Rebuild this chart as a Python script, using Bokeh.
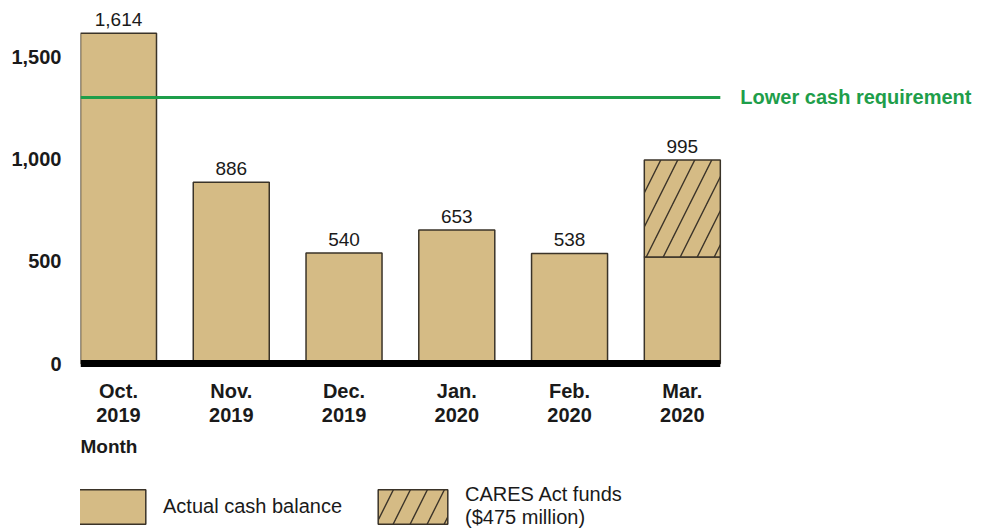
from bokeh.plotting import figure
from bokeh.layouts import column
from bokeh.models import (ColumnDataSource, FixedTicker, NumeralTickFormatter, Legend,
                          LegendItem, Title, Range1d)
from bokeh.core.properties import value
from bokeh.embed import file_html
from bokeh.resources import INLINE

# ---- data ----
months = ["Oct.\n2019", "Nov.\n2019", "Dec.\n2019", "Jan.\n2020", "Feb.\n2020", "Mar.\n2020"]
cash_balance = [1614, 886, 540, 653, 538, 520]
cares_funds = [0, 0, 0, 0, 0, 475]
total_labels = ["1,614", "886", "540", "653", "538", "995"]
lower_cash_requirement = 1300
y_ticks = [0, 500, 1000, 1500]

xs = list(range(len(months)))
totals = [c + f for c, f in zip(cash_balance, cares_funds)]

TAN = "#D5BB85"
EDGE = "#3a3328"
GREEN = "#1E9E4A"
TXT = "#1a1a1a"
FONT = "Liberation Sans"
BAR_W = 0.674
HATCH = dict(hatch_pattern="/", hatch_color=EDGE, hatch_weight=1.4, hatch_scale=34)

x_lo = xs[0] - BAR_W / 2
x_hi = xs[-1] + BAR_W / 2

p = figure(width=980, height=478,
           x_range=Range1d(x_lo, 7.60), y_range=Range1d(-34, 1725),
           output_backend="svg", toolbar_location=None,
           min_border_left=80, min_border_right=5, min_border_top=10, min_border_bottom=108)
p.outline_line_color = None
p.xgrid.visible = False
p.ygrid.visible = False

cash_src = ColumnDataSource(dict(x=xs, top=cash_balance))
p.vbar(x="x", top="top", bottom=0, width=BAR_W, source=cash_src,
       fill_color=TAN, line_color=EDGE, line_width=1.5)

cx = [x for x, f in zip(xs, cares_funds) if f > 0]
cb = [c for c, f in zip(cash_balance, cares_funds) if f > 0]
ct = [t for t, f in zip(totals, cares_funds) if f > 0]
cares_src = ColumnDataSource(dict(x=cx, bottom=cb, top=ct))
p.vbar(x="x", top="top", bottom="bottom", width=BAR_W, source=cares_src,
       fill_color=TAN, line_color=EDGE, line_width=1.5, **HATCH)

# baseline
p.segment(x0=[x_lo], y0=[0], x1=[x_hi], y1=[0], line_color="black", line_width=7)

# requirement line
p.segment(x0=[x_lo], y0=[lower_cash_requirement], x1=[x_hi], y1=[lower_cash_requirement],
          line_color=GREEN, line_width=3)
p.text(x=[x_hi], y=[lower_cash_requirement], text=["Lower cash requirement"], x_offset=20,
       text_align="left", text_baseline="middle", text_color=GREEN,
       text_font=value(FONT), text_font_size="20px", text_font_style="bold")

# value labels
p.text(x=xs, y=totals, text=total_labels, y_offset=-7, text_align="center",
       text_baseline="bottom", text_color=TXT, text_font=value(FONT), text_font_size="19px")

# axes
xa = p.xaxis[0]
xa.ticker = FixedTicker(ticks=xs)
xa.major_label_overrides = {x: m for x, m in zip(xs, months)}
xa.axis_line_color = None
xa.major_tick_line_color = None
xa.minor_tick_line_color = None
xa.major_label_standoff = 3
xa.major_label_text_font = FONT
xa.major_label_text_font_size = "20px"
xa.major_label_text_font_style = "bold"
xa.major_label_text_line_height = 1.1
xa.major_label_text_color = TXT

ya = p.yaxis[0]
ya.ticker = FixedTicker(ticks=y_ticks)
ya.formatter = NumeralTickFormatter(format="0,0")
ya.axis_line_color = None
ya.major_tick_line_color = None
ya.minor_tick_line_color = None
ya.major_label_standoff = 13
ya.major_label_text_font = FONT
ya.major_label_text_font_size = "20px"
ya.major_label_text_font_style = "bold"
ya.major_label_text_color = TXT

p.add_layout(Title(text="Month", align="left", text_font=FONT, text_font_size="19px",
                   text_font_style="bold", text_color=TXT), "below")

# ---- legend strip ----
lg = figure(width=980, height=51, x_range=Range1d(0, 1), y_range=Range1d(0, 1),
            output_backend="svg", toolbar_location=None,
            x_axis_location=None, y_axis_location=None,
            min_border_left=80, min_border_right=5, min_border_top=0, min_border_bottom=0)
lg.outline_line_color = None
lg.xgrid.visible = False
lg.ygrid.visible = False
# empty (NaN) samples so the legend swatches take the series' styles without drawing
swatch = dict(x=[float("nan")], top=[float("nan")])
l_cash = lg.vbar(x="x", top="top", bottom=0, width=0.1, source=ColumnDataSource(swatch),
                 fill_color=TAN, line_color=EDGE, line_width=1.5)
l_cares = lg.vbar(x="x", top="top", bottom=0, width=0.1, source=ColumnDataSource(swatch),
                  fill_color=TAN, line_color=EDGE, line_width=1.5, **HATCH)
legend = Legend(items=[LegendItem(label="Actual cash balance", renderers=[l_cash]),
                       LegendItem(label="CARES Act funds\n($475 million)", renderers=[l_cares])],
                orientation="horizontal", location=(-13, 0),
                glyph_width=87, glyph_height=43, label_standoff=9, spacing=27,
                padding=0, margin=0, border_line_color=None, background_fill_alpha=0,
                label_text_font=FONT, label_text_font_size="20px", label_text_line_height=1.1,
                label_text_color=TXT)
lg.add_layout(legend, "center")

layout = column(p, lg, spacing=0)
open("out.html", "w").write(file_html(layout, INLINE))
